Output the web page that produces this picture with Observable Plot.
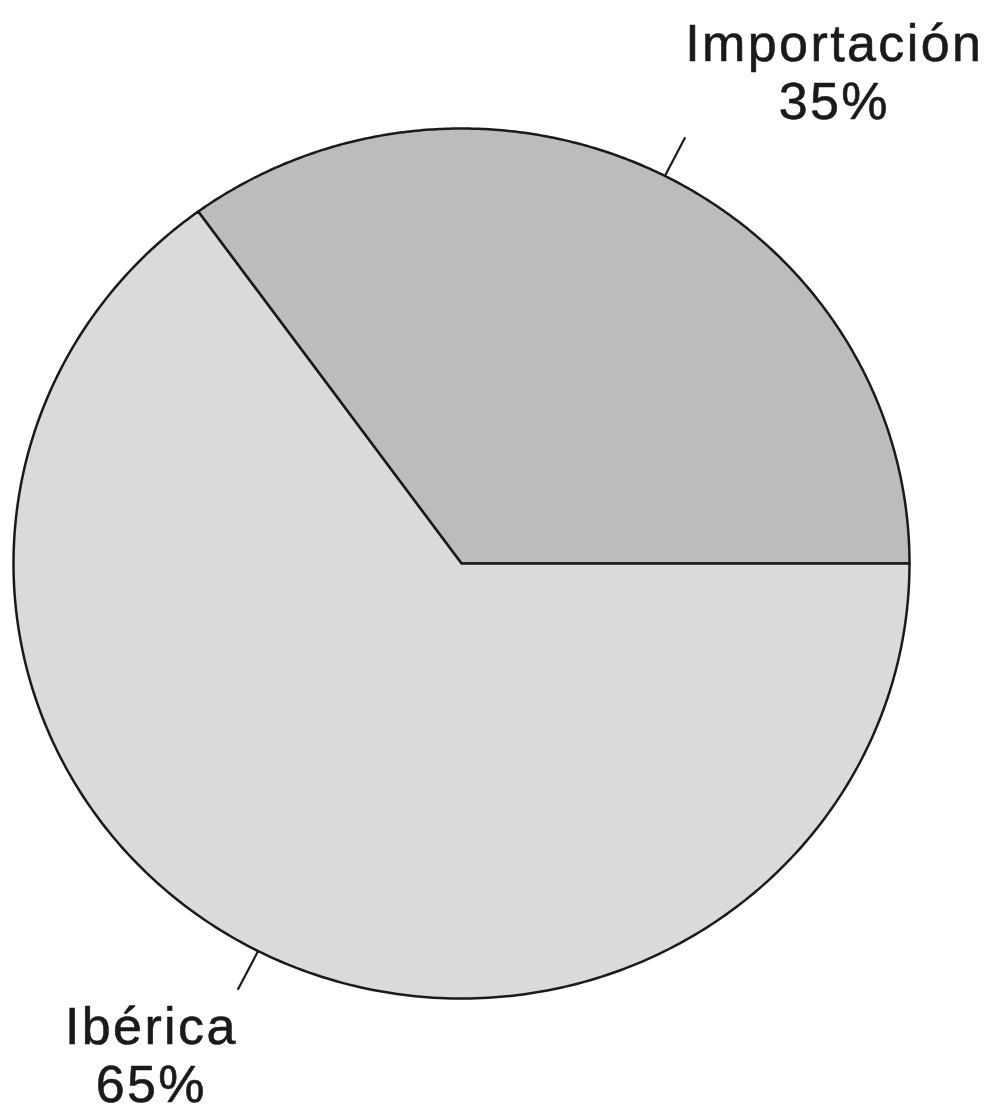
<!DOCTYPE html>
<html>
<head>
<meta charset="utf-8">
<script src="https://cdn.jsdelivr.net/npm/d3@7"></script>
<script src="https://cdn.jsdelivr.net/npm/@observablehq/plot@0.6"></script>
<style>
  html, body { margin: 0; padding: 0; background: #fff; }
  #chart svg text { letter-spacing: 2.4px; }
</style>
</head>
<body>
<div id="chart"></div>
<script>
// ---- data ----
const categories = ["Importación", "Ibérica"];
const shares = [35, 65];
const sliceColors = ["#bcbcbc", "#dadada"];

// ---- layout constants ----
const W = 991, H = 1113;
const xRange = [13, 909], yRange = [998, 128];
const fontSize = 52, letterSpacing = 2.4, lineHeight = 1.12;
const fontFamily = "'Liberation Sans', Arial, Helvetica, sans-serif";

const rows = categories.map((category, i) => ({category, share: shares[i]}));
const pie = d3.pie().sort(null).value(d => d.share)
  .startAngle(Math.PI / 2).endAngle(Math.PI / 2 - 2 * Math.PI);
const arcs = pie(rows);

// outline polygons of each slice (center + arc points)
const outline = arcs.flatMap(a => {
  const pts = [{category: a.data.category, x: 0, y: 0}];
  const n = 300;
  for (let k = 0; k <= n; ++k) {
    const t = a.startAngle + (a.endAngle - a.startAngle) * k / n;
    pts.push({category: a.data.category, x: Math.sin(t), y: Math.cos(t)});
  }
  return pts;
});

// measure text width in px
const ctx = document.createElement("canvas").getContext("2d");
ctx.font = `${fontSize}px ${fontFamily}`;
const measure = s => ctx.measureText(s).width + letterSpacing * s.length;
const pxToData = 2 / (xRange[1] - xRange[0]);

const leaders = arcs.map(a => {
  const m = (a.startAngle + a.endAngle) / 2;
  const r0 = 1.0, r1 = 1.1;
  const x2 = r1 * Math.sin(m), y2 = r1 * Math.cos(m);
  const name = a.data.category;
  const w = measure(name) * pxToData;
  const right = Math.sin(m) >= 0;
  return {
    category: name,
    label: `${name}\n${a.data.share}%`,
    x1: r0 * Math.sin(m), y1: r0 * Math.cos(m), x2, y2,
    lx: right ? x2 + w / 2 : x2 - w / 2,
    top: Math.cos(m) >= 0
  };
});

const chart = Plot.plot({
  width: W,
  height: H,
  margin: 0,
  x: {domain: [-1, 1], range: xRange, axis: null},
  y: {domain: [-1, 1], range: yRange, axis: null},
  color: {domain: categories, range: sliceColors},
  style: {fontFamily, background: "#fff", overflow: "visible"},
  marks: [
    Plot.line(outline, {x: "x", y: "y", z: "category", fill: "category",
      stroke: "#1a1a1a", strokeWidth: 2.5, curve: "linear-closed"}),
    Plot.link(leaders, {x1: "x1", y1: "y1", x2: "x2", y2: "y2",
      stroke: "#1a1a1a", strokeWidth: 2.2}),
    Plot.text(leaders.filter(d => d.top), {x: "lx", y: "y2", text: "label",
      lineAnchor: "bottom", lineHeight, textAnchor: "middle", dy: -18,
      fontSize, fill: "#1a1a1a", stroke: "#1a1a1a", strokeWidth: 0.6}),
    Plot.text(leaders.filter(d => !d.top), {x: "lx", y: "y2", text: "label",
      lineAnchor: "top", lineHeight, textAnchor: "middle", dy: 13,
      fontSize, fill: "#1a1a1a", stroke: "#1a1a1a", strokeWidth: 0.6})
  ]
});
document.getElementById("chart").appendChild(chart);
</script>
</body>
</html>
